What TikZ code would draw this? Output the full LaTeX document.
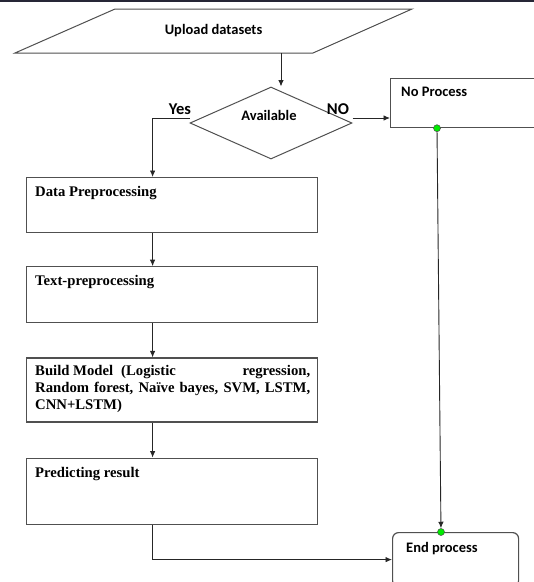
\documentclass[tikz,border=0pt]{standalone}
\usepackage{fontspec}
\setmainfont{Liberation Serif}
\newfontfamily\calibfont{Carlito}
\usetikzlibrary{arrows.meta,positioning,shapes.geometric}

\definecolor{framegray}{RGB}{80,80,80}
\definecolor{topbar}{RGB}{38,38,54}
\definecolor{dotgreen}{RGB}{0,235,0}

\begin{document}
\begin{tikzpicture}[x=1pt,y=-1pt,>={Latex[length=6.5pt,width=5.5pt]},
    node distance=34pt,
    every node/.style={inner sep=0pt},
    box/.style={draw=framegray,line width=1.2pt,minimum width=291pt,anchor=north west},
    endbox/.style={draw=framegray,line width=1.2pt,rounded corners=6pt,
        minimum width=126pt,minimum height=54pt,anchor=north west},
    decision/.style={diamond,draw=framegray,line width=1pt,minimum width=162pt,minimum height=72pt},
    sanslbl/.style={font=\calibfont\fontsize{14.5}{17}\selectfont\bfseries},
    seriflbl/.style={font=\fontsize{14.7}{17}\selectfont\bfseries,anchor=base west},
    flow/.style={->,line width=0.9pt,draw=black!85},
    dot/.style={circle,draw=black!70,fill=dotgreen,minimum size=7pt,line width=0.5pt}]

\clip (0,0) rectangle (534,582);
\fill[topbar] (0,0) rectangle (534,2);

% input and test
\node[sanslbl] (upload) at (213.5,31) {Upload datasets};
\draw[draw=framegray,line width=1pt] ([shift={(-98.5,-22)}]upload.center) -- ([shift={(198.5,-22)}]upload.center)
    -- ([shift={(99.5,22)}]upload.center) -- ([shift={(-198.5,22)}]upload.center) -- cycle;
\coordinate (upout) at ([shift={(67.5,22)}]upload.center);

\node[decision] (avail) at (271,123) {};
\node[sanslbl] (availtxt) at (269,115) {Available};
\node[sanslbl,font=\calibfont\fontsize{16.5}{18}\selectfont\bfseries] (yes) at (180,109) {Yes};
\node[sanslbl,font=\calibfont\fontsize{16.5}{18}\selectfont\bfseries] (no) at (338,109) {NO};

\draw[flow] (upout) -- (upout |- avail.north);

% main column
\node[box,minimum height=55pt] (dp) at (26,177) {};
\node[box,minimum height=56pt,below=33pt of dp] (tp) {};
\node[box,minimum height=64pt,below=of tp] (bm) {};
\node[box,minimum height=66pt,below=35pt of bm] (pr) {};

\node[seriflbl] (dptxt) at ([shift={(9,19)}]dp.north west) {Data Preprocessing};
\node[seriflbl] (tptxt) at ([shift={(9,19)}]tp.north west) {Text-preprocessing};
\node[seriflbl,text width=275pt,align=justify] (bmtxt) at ([shift={(9,18)}]bm.north west)
    {Build~Model\hspace{8pt}(Logistic\hfill regression,\linebreak Random forest, Na\"ive bayes, SVM, LSTM,\linebreak CNN+LSTM)};
\node[seriflbl] (prtxt) at ([shift={(9,20)}]pr.north west) {Predicting result};

\draw[flow] ([yshift=5pt]avail.west) -| ([xshift=-19.5pt]dp.north);
\foreach \a/\b in {dp/tp,tp/bm,bm/pr}
    \draw[flow] ([xshift=-19.5pt]\a.south) -- ([xshift=-19.5pt]\b.north);

% no branch and end
\node[box,minimum width=170pt,minimum height=49pt] (np) at (390,78) {};
\node[sanslbl,anchor=base west] (nptxt) at ([shift={(11,18)}]np.north west) {No Process};
\node[endbox] (endp) at (392,532) {};
\node[sanslbl,anchor=base west] (endtxt) at ([shift={(14,20)}]endp.north west) {End process};

\draw[flow] ([yshift=5pt]avail.east) -- ([yshift=5pt]avail.east -| np.west);
\draw[flow] ([xshift=-19.5pt]pr.south) |- (endp.west);

\node[dot] (npdot) at ([xshift=47pt]np.south west) {};
\node[dot] (enddot) at ([xshift=49pt]endp.north west) {};
\draw[flow] (npdot) -- (enddot);

\end{tikzpicture}
\end{document}
